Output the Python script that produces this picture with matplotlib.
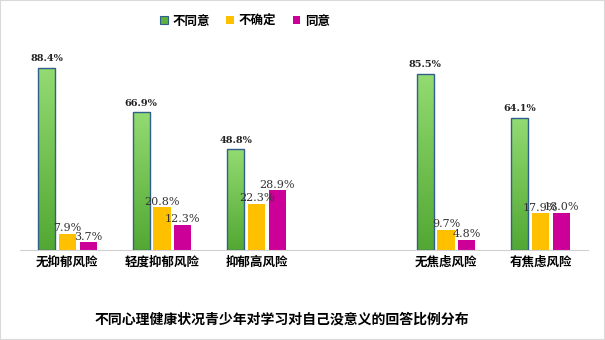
import numpy as np
import matplotlib.pyplot as plt
from matplotlib.colors import LinearSegmentedColormap
from matplotlib.patches import Rectangle

plt.rcParams['font.family'] = ['Noto Sans CJK SC', 'DejaVu Sans']

# groups (an empty slot separates depression and anxiety)
categories = ['无抑郁风险', '轻度抑郁风险', '抑郁高风险', '', '无焦虑风险', '有焦虑风险']
disagree = [88.4, 66.9, 48.8, None, 85.5, 64.1]
unsure = [7.9, 20.8, 22.3, None, 9.7, 17.9]
agree = [3.7, 12.3, 28.9, None, 4.8, 18.0]
series_names = ['不同意', '不确定', '同意']
title = '不同心理健康状况青少年对学习对自己没意义的回答比例分布'

green_cmap = LinearSegmentedColormap.from_list('g', ['#52a832', '#93db72'])
yellow = '#ffc000'
magenta = '#cc0099'
edge = '#2f5f8a'

fig = plt.figure(figsize=(6.05, 3.4), dpi=100)
ax = fig.add_axes([20 / 605, 90 / 340, 568 / 605, 220 / 340])

x = np.arange(len(categories))
w = 0.18
step = 0.22
grad = np.linspace(0, 1, 256).reshape(-1, 1)

for i, c in enumerate(categories):
    if disagree[i] is None:
        continue
    # green bar with vertical gradient
    x0 = x[i] - step - w / 2
    rect = Rectangle((x0, 0), w, disagree[i], facecolor='none',
                     edgecolor=edge, linewidth=1.0, zorder=3)
    ax.add_patch(rect)
    im = ax.imshow(grad, cmap=green_cmap, origin='lower', aspect='auto',
                   extent=(x0, x0 + w, 0, disagree[i]), zorder=2)
    im.set_clip_path(rect)
    ax.text(x[i] - step, disagree[i] + 2.2, f'{disagree[i]:.1f}%', ha='center',
            va='bottom', fontsize=7, fontweight='bold',
            family=['DejaVu Serif'], color='#222222')

    ax.bar(x[i], unsure[i], w, color=yellow, zorder=2)
    ax.text(x[i], unsure[i] + 0.3, f'{unsure[i]:.1f}%', ha='center',
            va='bottom', fontsize=8, family=['DejaVu Serif'], color='#333333')

    ax.bar(x[i] + step, agree[i], w, color=magenta, zorder=2)
    ax.text(x[i] + step, agree[i] + 0.3, f'{agree[i]:.1f}%', ha='center',
            va='bottom', fontsize=8, family=['DejaVu Serif'], color='#333333')

ax.set_xlim(-0.5, len(categories) - 0.5)
ax.set_ylim(0, 106.8)
ax.set_xticks(x)
ax.set_xticklabels(categories, fontsize=9, fontweight='bold')
ax.tick_params(axis='x', length=0, pad=4)
ax.set_yticks([])
for s in ['top', 'right', 'left']:
    ax.spines[s].set_visible(False)
ax.spines['bottom'].set_color('#d0d0d0')

# legend
handles = [Rectangle((0, 0), 1, 1, facecolor='#5cb23b', edgecolor=edge, linewidth=0.8),
           Rectangle((0, 0), 1, 1, facecolor=yellow),
           Rectangle((0, 0), 1, 1, facecolor=magenta)]
leg = fig.legend(handles, series_names, loc='center', bbox_to_anchor=(0.405, 0.938),
                 ncol=3, frameon=False, fontsize=9, handlelength=0.6, handleheight=0.6,
                 handletextpad=0.4, columnspacing=1.3)
for t in leg.get_texts():
    t.set_fontweight('bold')

fig.text(0.466, 0.059, title, ha='center', va='center', fontsize=10, fontweight='bold')

# faint frame around the figure
fig.add_artist(Rectangle((0, 0), 1, 1, transform=fig.transFigure, fill=False,
                         edgecolor='#d9d9d9', linewidth=1.5))

fig.savefig('out.png', dpi=100)
